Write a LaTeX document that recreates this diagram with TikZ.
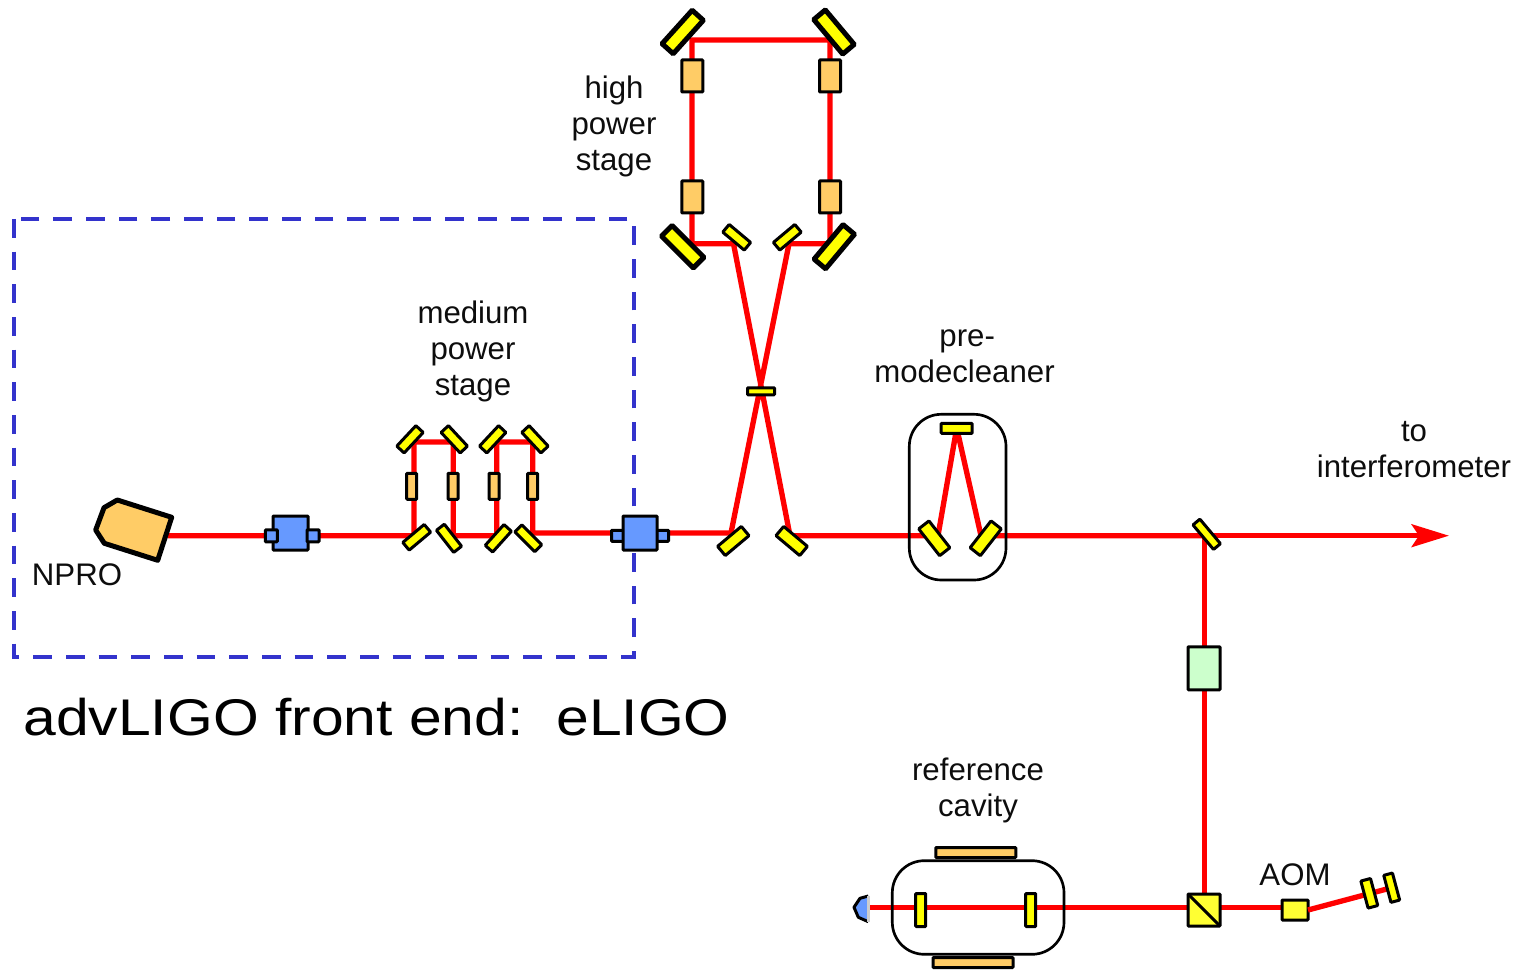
\documentclass[tikz,border=0pt]{standalone}
\usepackage{fontspec}
\setmainfont{Liberation Sans}
\newfontfamily\titlefont[FakeStretch=1.14]{Liberation Sans}
\usetikzlibrary{arrows.meta}
\definecolor{beamred}{HTML}{FF0000}
\definecolor{optyellow}{HTML}{FFFF00}
\definecolor{bsyellow}{HTML}{FFFF33}
\definecolor{amporange}{HTML}{FFCC66}
\definecolor{isoblue}{HTML}{6699FF}
\definecolor{eomgreen}{HTML}{CCFFCC}
\definecolor{dashblue}{HTML}{3333CC}
\tikzset{
  x=0.75pt,y=-0.75pt,
  sz/.style 2 args={minimum width=#1*0.75pt,minimum height=#2*0.75pt},
  part/.style={draw=black,line width=2.25pt,inner sep=0pt,outer sep=0pt,rectangle,rounded corners=0.6pt},
  hpmirror/.style={part,fill=optyellow,line width=3.75pt,sz={45}{15}},
  mirror/.style={part,fill=optyellow},
  amp/.style={part,fill=amporange},
  iso/.style={part,fill=isoblue},
  beam/.style={draw=beamred,line width=4pt},
  shell/.style={draw=black,line width=2pt,rounded corners=24pt},
  lbl/.style={align=center,font=\fontsize{23.4}{27}\selectfont,text=black!95,inner sep=0pt},
}
\begin{document}
\begin{tikzpicture}
\useasboundingbox (0,0) rectangle (1518,970);
% front-end frame
\draw[dashblue,line width=3pt,dash pattern=on 14pt off 10.5pt] (14,219) rectangle (634,657);
% beam turning points
\coordinate (nproOut) at (168,535.7);
\coordinate (m1) at (414,535.7);
\coordinate (m2) at (414,442);
\coordinate (m3) at (453.3,442);
\coordinate (m4) at (453.3,535.7);
\coordinate (m5) at (496.7,535.7);
\coordinate (m6) at (496.7,442);
\coordinate (m7) at (532.7,442);
\coordinate (m8) at (532.7,533);
\coordinate (h1) at (731,533);
\coordinate (h2) at (789,243.7);
\coordinate (h3) at (830,243.7);
\coordinate (h4) at (830,40);
\coordinate (h5) at (692,40);
\coordinate (h6) at (692,243.7);
\coordinate (h7) at (733.5,243.7);
\coordinate (h8) at (790,535.7);
\coordinate (p1) at (938,535.7);
\coordinate (p2) at (956.7,428);
\coordinate (p3) at (981,535.7);
\coordinate (tap) at (1204.5,535.7);
\coordinate (arrowEnd) at (1449,535.7);
\coordinate (bsIn) at (1204.5,907.3);
\coordinate (bsOut) at (1290,907.3);
\coordinate (pdIn) at (869,907.3);
% beams
\draw[beam,miter limit=2] (nproOut) -- (m1) -- (m2) -- (m3) -- (m4) -- (m5) -- (m6) -- (m7) -- (m8) -- (h1) -- (h2) -- (h3) -- (h4) -- (h5) -- (h6) -- (h7) -- (h8) -- (p1) -- (p2) -- (p3) -- (tap);
\draw[beam,-{Stealth[length=28pt,width=17pt,inset=5.5pt]}] (tap) -- (arrowEnd);
\draw[beam] (tap) -- (bsIn);
\draw[beam] (pdIn) -- (bsOut);
% NPRO
\draw[fill=amporange,line width=3.75pt,line join=round] (117.3,500) -- (171.7,517.3) -- (157.7,560.3) -- (104.3,543.3) -- (95.7,530) -- (104,507.7) -- cycle;
% isolators
\node[iso,sz={35}{34}] (far1) at (290.5,533) {};
\node[iso,sz={12}{12}] (far1l) at (271.3,535.8) {};
\node[iso,sz={12}{12}] (far1r) at (313,535.8) {};
\node[iso,sz={12}{11}] (far2l) at (617.5,535.8) {};
\node[iso,sz={12}{11}] (far2r) at (662.5,535.8) {};
\node[iso,sz={34}{34}] (far2) at (640,533) {};
% medium power stage
\node[mirror,sz={28}{10},rotate=47] (a) at (410,439.3) {};
\node[mirror,sz={28}{10},rotate=-47] (b) at (454.3,439.3) {};
\node[mirror,sz={28}{10},rotate=47] (c) at (492.7,439.3) {};
\node[mirror,sz={28}{10},rotate=-47] (d) at (535,439.3) {};
\node[mirror,sz={28}{10},rotate=40] (e) at (416.7,537.3) {};
\node[mirror,sz={28}{10},rotate=-52] (f) at (449,538.3) {};
\node[mirror,sz={28}{10},rotate=48] (g) at (498.3,538.3) {};
\node[mirror,sz={28}{10},rotate=-45] (h) at (528.3,538.3) {};
\node[amp,sz={10}{26}] (ma1) at (411.7,486.3) {};
\node[amp,sz={10}{26}] (ma2) at (453,486.3) {};
\node[amp,sz={10}{26}] (ma3) at (494,486.3) {};
\node[amp,sz={10}{26}] (ma4) at (532.7,486.3) {};
% high power stage
\node[hpmirror,rotate=48] (tl) at (682.7,32) {};
\node[hpmirror,rotate=-50] (tr) at (834,32) {};
\node[hpmirror,rotate=-45] (bl) at (682.7,246.7) {};
\node[hpmirror,rotate=50] (br) at (834.3,246.7) {};
\node[amp,sz={21}{32}] (ha1) at (692.3,76) {};
\node[amp,sz={21}{32}] (ha2) at (830,76) {};
\node[amp,sz={21}{32}] (ha3) at (692.3,197) {};
\node[amp,sz={21}{32}] (ha4) at (830,197) {};
\node[mirror,sz={28}{10},rotate=-40] (s1) at (736.7,237.3) {};
\node[mirror,sz={28}{10},rotate=40] (s2) at (787.3,237.3) {};
\node[mirror,sz={27}{7},inner sep=0pt] (s3) at (761,391.3) {};
\node[mirror,sz={31}{12},rotate=40] (s4) at (733.3,541) {};
\node[mirror,sz={31}{12},rotate=-40] (s5) at (791.7,541) {};
% pre-modecleaner
\draw[shell] (909.3,414.3) rectangle (1006,580);
\node[mirror,sz={31}{10}] (pm1) at (956.7,428.3) {};
\node[mirror,sz={34}{13},rotate=-52] (pm2) at (934.3,538.3) {};
\node[mirror,sz={34}{13},rotate=52] (pm3) at (985.7,538.3) {};
% tap and EOM
\node[mirror,sz={32}{9},rotate=-50] (tapm) at (1206.7,534.3) {};
\node[part,fill=eomgreen,sz={32}{43}] (eom) at (1204,668.3) {};
% reference cavity
\draw[shell] (892.3,860.7) rectangle (1064,954.3);
\node[amp,sz={80}{10}] (rc1) at (975.8,852.5) {};
\node[amp,sz={80}{10}] (rc2) at (973,962.5) {};
\node[mirror,sz={10}{33}] (rm1) at (920.7,910) {};
\node[mirror,sz={10}{33}] (rm2) at (1030.7,910) {};
% photodiode
\draw[fill=isoblue,line width=2.25pt,line join=round] (868.3,896) -- (860,898.3) -- (854,907.3) -- (858.3,917.3) -- (868.3,921.7);
\draw[black!20,line width=2.25pt] (868.8,895.5) -- (868.8,922);
% splitter, AOM, retro mirrors
\node[part,fill=bsyellow,sz={32}{32}] (bs) at (1204,910) {};
\draw[black,line width=2.25pt] (bs.north west) -- (bs.south east);
\node[part,fill=bsyellow,sz={26}{20}] (aom) at (1295,910) {};
\coordinate (rt) at (1391.7,887.7);
\draw[beam] (aom.east) -- (rt);
\node[mirror,sz={10}{28},rotate=15] (r1) at (1369.3,893.3) {};
\node[mirror,sz={9}{28},rotate=15] (r2) at (1391.7,887.7) {};
% labels
\node[lbl] (t1) at (614,126) {high\\power\\stage};
\node[lbl] (t2) at (473,351) {medium\\power\\stage};
\node[lbl] (t3) at (964.5,356) {\hspace*{4pt}pre-\\modecleaner};
\node[lbl] (t4) at (1414,450) {to\\interferometer};
\node[lbl] (t5) at (978,790) {reference\\cavity};
\node[lbl] (t6) at (77,575) {NPRO};
\node[lbl] (t7) at (1295,875) {AOM};
\node[inner sep=0pt,text=black] (title) at (376.5,717) {\fontsize{38.7}{44}\selectfont\titlefont advLIGO front end:\ \ eLIGO};
\end{tikzpicture}
\end{document}
